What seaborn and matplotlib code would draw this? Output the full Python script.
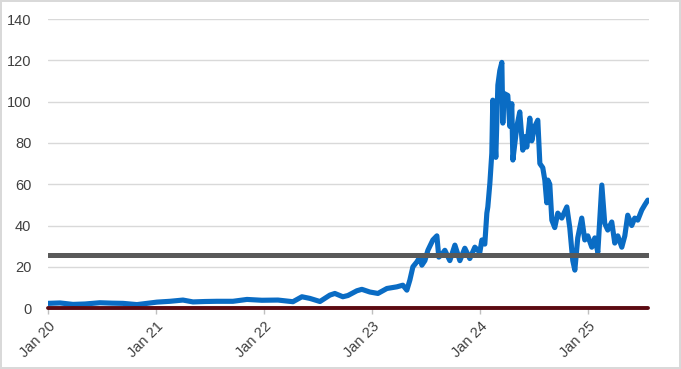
import numpy as np
import pandas as pd
import matplotlib
matplotlib.use("Agg")
import matplotlib.pyplot as plt
import seaborn as sns

# time in years since 1 Jan 2020
years_since_2020 = [
    0.000, 0.111, 0.231, 0.343, 0.481, 0.593, 0.694, 0.824, 0.917, 1.009,
    1.130, 1.250, 1.343, 1.454, 1.565, 1.713, 1.843, 1.981, 2.130, 2.269,
    2.352, 2.426, 2.519, 2.611, 2.657, 2.731, 2.778, 2.861, 2.907, 2.981,
    3.056, 3.139, 3.231, 3.287, 3.324, 3.352, 3.380, 3.417, 3.444, 3.463,
    3.491, 3.519, 3.565, 3.602, 3.620, 3.648, 3.676, 3.722, 3.769, 3.815,
    3.861, 3.907, 3.954, 3.981, 4.000, 4.019, 4.046, 4.065, 4.074, 4.093,
    4.111, 4.120, 4.148, 4.167, 4.185, 4.204, 4.213, 4.222, 4.259, 4.278,
    4.296, 4.306, 4.343, 4.370, 4.398, 4.417, 4.435, 4.463, 4.481, 4.509,
    4.537, 4.556, 4.583, 4.602, 4.620, 4.630, 4.648, 4.667, 4.694, 4.722,
    4.759, 4.806, 4.833, 4.852, 4.861, 4.880, 4.907, 4.944, 4.972, 5.000,
    5.037, 5.065, 5.093, 5.130, 5.157, 5.185, 5.222, 5.250, 5.278, 5.315,
    5.343, 5.370, 5.407, 5.435, 5.463, 5.500, 5.528, 5.556,
]
values = [
    2.3, 2.5, 1.8, 2.0, 2.6, 2.4, 2.3, 1.7, 2.3, 2.9,
    3.3, 3.9, 3.0, 3.2, 3.3, 3.3, 4.2, 3.8, 3.9, 3.1,
    5.5, 4.7, 3.2, 6.3, 7.1, 5.5, 6.1, 8.4, 9.1, 7.8,
    7.1, 9.5, 10.3, 11.1, 8.7, 13.6, 20.0, 22.4, 24.7, 20.8,
    23.0, 28.0, 33.0, 35.0, 24.7, 26.0, 28.0, 23.0, 30.5, 23.0,
    29.0, 24.0, 29.5, 28.0, 27.0, 33.0, 31.0, 46.0, 49.0, 60.5,
    75.0, 100.7, 73.0, 108.0, 115.0, 119.0, 89.6, 104.0, 103.0, 88.0,
    99.0, 71.7, 88.0, 95.0, 76.5, 83.0, 78.0, 92.0, 81.0, 88.0,
    91.0, 70.0, 68.0, 62.0, 51.0, 62.0, 60.0, 42.6, 39.0, 46.0,
    43.6, 49.0, 39.0, 28.0, 23.0, 18.4, 34.0, 43.6, 33.0, 35.0,
    29.5, 34.0, 27.0, 59.6, 41.0, 37.8, 41.7, 31.5, 35.0, 29.5,
    35.0, 45.0, 40.0, 43.6, 42.6, 47.5, 50.0, 52.3,
]
reference_level = 25.5
zero_level = 0.0
tick_years = [2020, 2021, 2022, 2023, 2024, 2025]
tick_labels = ["Jan 20", "Jan 21", "Jan 22", "Jan 23", "Jan 24", "Jan 25"]
y_ticks = [0, 20, 40, 60, 80, 100, 120, 140]

start = pd.Timestamp("2020-01-01")
dates = start + pd.to_timedelta(np.array(years_since_2020) * 365.25, unit="D")
df = pd.DataFrame({"date": dates, "value": values})
lines = pd.DataFrame({
    "date": [dates[0], dates[-1]],
    "ref": [reference_level, reference_level],
    "zero": [zero_level, zero_level],
})

sns.set_theme(style="white")
plt.rcParams["font.family"] = ["Liberation Sans", "DejaVu Sans"]

fig = plt.figure(figsize=(6.81, 3.69), dpi=100)
fig.patch.set_facecolor("white")
fig.patch.set_edgecolor("#D9D9D9")
fig.patch.set_linewidth(1.5)
ax = fig.add_axes([0.0705, 0.165, 0.8825, 0.7835])

sns.lineplot(data=df, x="date", y="value", ax=ax, color="#0A6CC4",
             linewidth=3.7, zorder=3)
sns.lineplot(data=lines, x="date", y="ref", ax=ax, color="#595959",
             linewidth=3.6, zorder=4)
sns.lineplot(data=lines, x="date", y="zero", ax=ax, color="#5C0A12",
             linewidth=2.8, zorder=5, clip_on=False)

ax.set_xlim(dates[0], dates[-1] + pd.Timedelta(days=4))
ax.set_ylim(0, 140)
ax.set_yticks(y_ticks)
ax.yaxis.grid(True, color="#D9D9D9", linewidth=1.0)
ax.xaxis.grid(False)
for s in ax.spines.values():
    s.set_visible(False)

ax.set_xticks([pd.Timestamp(f"{y}-01-01") for y in tick_years])
ax.set_xticklabels(tick_labels, rotation=45, ha="right", rotation_mode="anchor")
ax.tick_params(axis="x", length=4, color="#BFBFBF", width=1,
               labelsize=10.5, pad=4, bottom=True)
ax.tick_params(axis="y", length=0, labelsize=10.5, pad=12)
for t in ax.get_xticklabels() + ax.get_yticklabels():
    t.set_color("#404040")
ax.set_xlabel("")
ax.set_ylabel("")

fig.savefig("out.png", dpi=100)
